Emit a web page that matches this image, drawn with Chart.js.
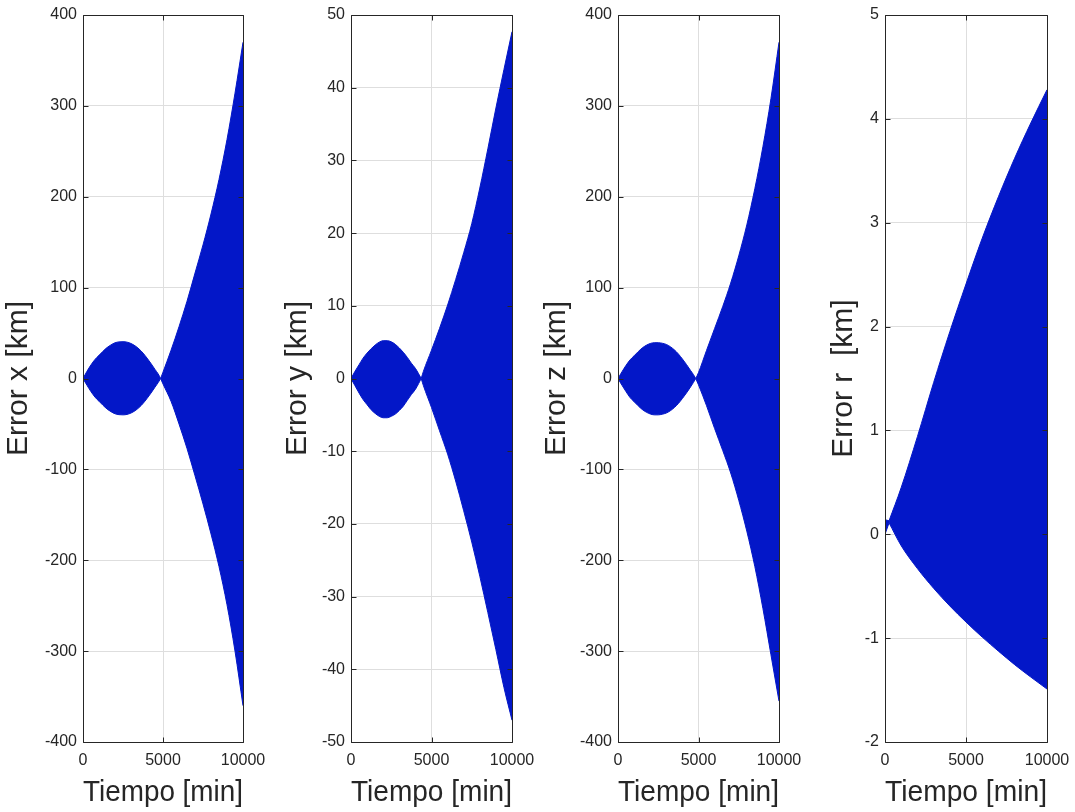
<!DOCTYPE html>
<html>
<head>
<meta charset="utf-8">
<script src="https://cdn.jsdelivr.net/npm/chart.js@4.4.0/dist/chart.umd.min.js"></script>
<style>
  html, body { margin: 0; padding: 0; background: #ffffff; overflow: hidden; }
  #fig { position: relative; width: 1075px; height: 812px; }
  #fig canvas { position: absolute; top: 0; }
</style>
</head>
<body>
<div id="fig">
  <canvas id="panelX" width="268" height="812" style="left:0px"></canvas>
  <canvas id="panelY" width="268" height="812" style="left:268px"></canvas>
  <canvas id="panelZ" width="268" height="812" style="left:535px"></canvas>
  <canvas id="panelR" width="273" height="812" style="left:802px"></canvas>
</div>
<script>
// Envolventes (superior / inferior) del error oscilante en cada componente, por tiempo [min]

// Componente x
const tiempoX   = [0, 250, 500, 750, 1000, 1250, 1500, 1750, 2000, 2250, 2500, 2750, 3000, 3250, 3500, 3750, 4000, 4250, 4500, 4700, 4850, 5000, 5500, 6000, 6500, 7000, 7500, 8000, 8500, 9000, 9500, 10000];
const errorXSup = [0, 8, 15, 21, 25.5, 30, 34, 37, 39.3, 40.3, 40.5, 40, 38.5, 36, 32.5, 28, 22.5, 16.5, 10, 5, 0, 7, 31, 57, 85, 116, 147, 181, 219, 263, 314, 370];
const errorXInf = [0, -7.5, -14.5, -20.5, -25, -29.5, -33.5, -36.5, -38.8, -39.8, -40, -39.5, -38, -35.5, -32, -27.5, -22, -16, -9.5, -4.5, 0, -6, -25, -50, -77, -107, -138, -171, -207, -249, -300, -360];
const cruceX    = [4850];

// Componente y
const tiempoY   = [0, 250, 500, 750, 1000, 1250, 1500, 1750, 2000, 2250, 2500, 2750, 3000, 3250, 3500, 3750, 4000, 4200, 4360, 4500, 5000, 5500, 6000, 6500, 7000, 7500, 8000, 8500, 9000, 9500, 10000];
const errorYSup = [0, 1.0, 1.9, 2.8, 3.5, 4.1, 4.6, 5.0, 5.2, 5.2, 5.05, 4.7, 4.2, 3.6, 2.9, 2.1, 1.4, 0.65, 0, 1.0, 3.9, 6.9, 10.1, 13.6, 17.3, 21.3, 26.2, 31.6, 37.2, 42.5, 47.7];
const errorYInf = [0, -1.0, -2.0, -2.9, -3.6, -4.3, -4.8, -5.2, -5.4, -5.4, -5.2, -4.9, -4.4, -3.8, -3.0, -2.2, -1.5, -0.7, 0, -1.0, -4.0, -7.2, -10.4, -14.1, -18.2, -22.5, -27.2, -32.2, -37.3, -42.5, -47];
const cruceY    = [4360];

// Componente z
const tiempoZ   = [0, 250, 500, 750, 1000, 1250, 1500, 1750, 2000, 2250, 2500, 2750, 3000, 3250, 3500, 3750, 4000, 4250, 4500, 4680, 4830, 5000, 5500, 6000, 6500, 7000, 7500, 8000, 8500, 9000, 9500, 10000];
const errorZSup = [0, 7.5, 14.5, 20.5, 25, 29.5, 33.5, 36.5, 38.5, 39.4, 39.4, 38.8, 37.5, 35, 31.5, 27, 21.5, 15.5, 9, 4.5, 0, 6.5, 31, 55, 79, 105, 135, 169, 209, 255, 308, 370];
const errorZInf = [0, -7.5, -14.5, -21, -25.5, -30, -34, -37, -39, -40, -40, -39.3, -38, -35.5, -32, -27.5, -22, -16, -9.5, -4.5, 0, -7, -30, -55, -79, -104, -134, -168, -207, -253, -304, -355];
const cruceZ    = [4830];

// Módulo r
const tiempoR   = [0, 250, 1000, 2000, 3000, 4000, 5000, 6000, 7000, 8000, 9000, 10000];
const errorRSup = [0.14, 0.13, 0.45, 0.94, 1.46, 1.95, 2.41, 2.85, 3.25, 3.62, 3.96, 4.28];
const errorRInf = [0, 0.11, -0.11, -0.33, -0.52, -0.69, -0.845, -0.99, -1.125, -1.255, -1.375, -1.49];
const cruceR    = [250];

// Marcas de los ejes
const ticksTiempo = [0, 5000, 10000];
const ticksX = [-400, -300, -200, -100, 0, 100, 200, 300, 400];
const ticksY = [-50, -40, -30, -20, -10, 0, 10, 20, 30, 40, 50];
const ticksZ = [-400, -300, -200, -100, 0, 100, 200, 300, 400];
const ticksR = [-2, -1, 0, 1, 2, 3, 4, 5];

const AZUL = 'rgb(3, 23, 200)';
const TEXTO = '#262626';
const REJILLA = '#dedede';
const FUENTE = "'Liberation Sans', Arial, Helvetica, sans-serif";

// Caja completa del eje con marcas hacia dentro
const marco = {
  id: 'marco',
  afterDatasetsDraw(chart) {
    const { ctx, chartArea: a, scales } = chart;
    const px = v => Math.round(v) + 0.5;
    const L = px(a.left), R = px(a.right), T = px(a.top), B = px(a.bottom);
    const largo = 5;
    ctx.save();
    ctx.strokeStyle = TEXTO;
    ctx.lineWidth = 1;
    ctx.beginPath();
    ctx.rect(L, T, R - L, B - T);
    scales.y.ticks.forEach(t => {
      const yy = px(scales.y.getPixelForValue(t.value));
      ctx.moveTo(L, yy); ctx.lineTo(L + largo, yy);
      ctx.moveTo(R, yy); ctx.lineTo(R - largo, yy);
    });
    scales.x.ticks.forEach(t => {
      const xx = px(scales.x.getPixelForValue(t.value));
      ctx.moveTo(xx, B); ctx.lineTo(xx, B - largo);
      ctx.moveTo(xx, T); ctx.lineTo(xx, T + largo);
    });
    ctx.stroke();
    ctx.restore();
  }
};

function puntos(t, v, i0, i1) {
  const out = [];
  for (let i = i0; i <= i1; i++) out.push({ x: t[i], y: v[i] });
  return out;
}

// Cada tramo entre cruces se dibuja como banda propia (superior + inferior rellena)
function bandas(tiempo, sup, inf, cruces) {
  const cortes = [0];
  cruces.forEach(c => cortes.push(tiempo.indexOf(c)));
  cortes.push(tiempo.length - 1);
  const estilo = { borderColor: AZUL, borderWidth: 1, pointRadius: 0, cubicInterpolationMode: 'monotone' };
  const ds = [];
  for (let k = 0; k < cortes.length - 1; k++) {
    const a = cortes[k], b = cortes[k + 1];
    ds.push(Object.assign({ data: puntos(tiempo, sup, a, b), fill: false }, estilo));
    ds.push(Object.assign({ data: puntos(tiempo, inf, a, b), fill: '-1', backgroundColor: AZUL }, estilo));
  }
  return ds;
}

function crearPanel(id, tiempo, sup, inf, cruces, marcasY, etiqueta, padTitulo, padDerecha) {
  const yMin = marcasY[0], yMax = marcasY[marcasY.length - 1];
  const paso = marcasY[1] - marcasY[0];
  new Chart(document.getElementById(id), {
    type: 'line',
    data: { datasets: bandas(tiempo, sup, inf, cruces) },
    options: {
      responsive: false,
      animation: false,
      events: [],
      layout: { padding: { top: 15, right: padDerecha, bottom: 0, left: 0 } },
      plugins: { legend: { display: false }, tooltip: { enabled: false } },
      scales: {
        x: {
          type: 'linear',
          min: ticksTiempo[0],
          max: ticksTiempo[ticksTiempo.length - 1],
          afterBuildTicks: s => { s.ticks = ticksTiempo.map(v => ({ value: v })); },
          afterFit: s => { s.height = 70; s.paddingLeft = 0; s.paddingRight = 0; },
          ticks: {
            color: TEXTO, padding: 9, maxRotation: 0, autoSkip: false,
            font: { family: FUENTE, size: 16 },
            callback: v => String(v)
          },
          grid: { color: REJILLA, drawTicks: false, lineWidth: 1 },
          border: { display: false },
          title: {
            display: true, text: 'Tiempo [min]', color: TEXTO,
            font: { family: FUENTE, size: 30 },
            padding: { top: 0, bottom: 1 }
          }
        },
        y: {
          type: 'linear',
          min: yMin,
          max: yMax,
          afterBuildTicks: s => { s.ticks = marcasY.map(v => ({ value: v })); },
          afterFit: s => { s.width = 83; s.paddingTop = 0; s.paddingBottom = 0; },
          ticks: {
            color: TEXTO, padding: 6, stepSize: paso,
            font: { family: FUENTE, size: 16 },
            callback: v => String(v)
          },
          grid: { color: REJILLA, drawTicks: false, lineWidth: 1 },
          border: { display: false },
          title: {
            display: true, text: etiqueta, color: TEXTO,
            font: { family: FUENTE, size: 30 },
            padding: { top: padTitulo, bottom: 0 }
          }
        }
      }
    },
    plugins: [marco]
  });
}

crearPanel('panelX', tiempoX, errorXSup, errorXInf, cruceX, ticksX, 'Error x [km]', 1, 25);
crearPanel('panelY', tiempoY, errorYSup, errorYInf, cruceY, ticksY, 'Error y [km]', 12, 24);
crearPanel('panelZ', tiempoZ, errorZSup, errorZInf, cruceZ, ticksZ, 'Error z [km]', 4, 24);
crearPanel('panelR', tiempoR, errorRSup, errorRInf, cruceR, ticksR, 'Error r  [km]', 24, 28);
</script>
</body>
</html>
